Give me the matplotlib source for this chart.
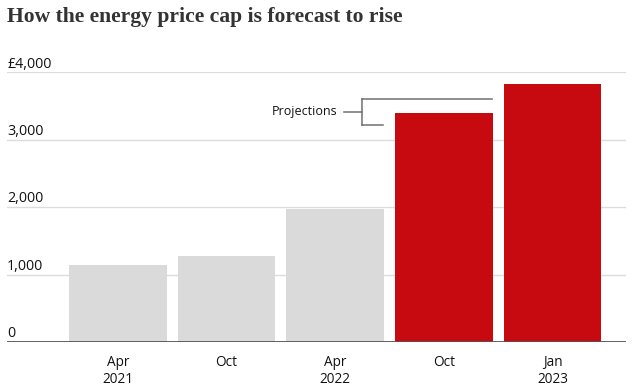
import numpy as np
import matplotlib
matplotlib.use("Agg")
import matplotlib.pyplot as plt

# price cap (GBP / year)
months = ["Apr", "Oct", "Apr", "Oct", "Jan"]
years = ["2021", "", "2022", "", "2023"]
cap = [1138, 1277, 1971, 3390, 3830]
projected = [False, False, False, True, True]
yticks = [0, 1000, 2000, 3000, 4000]
ylabels = ["0", "1,000", "2,000", "3,000", "£4,000"]

GREY, RED, INK = "#dadada", "#c70a10", "#121212"
SANS = ["Open Sans", "DejaVu Sans"]

fig = plt.figure(figsize=(6.32, 3.92), dpi=100)
ax = fig.add_axes([7 / 632, 50 / 392, 619 / 632, 1 - 72.3 / 392 - 50 / 392])

x = np.arange(len(cap))
cols = [RED if p else GREY for p in projected]
ax.bar(x, cap, width=0.9, color=cols, zorder=2)

ax.set_xlim(-1.022, 4.677)
ax.set_ylim(0, 4000)
for s in ax.spines.values():
    s.set_visible(False)
ax.set_xticks([]); ax.set_yticks([])

# gridlines + labels sitting on top of them
for v, lab in zip(yticks, ylabels):
    if v == 0:
        ax.axhline(0, color="#555555", lw=1.3, zorder=3)
    else:
        ax.axhline(v, color="#dcdcdc", lw=1.0, zorder=1)
    ax.annotate(lab, (0, v), xycoords=("axes fraction", "data"), xytext=(0, 0.5),
                textcoords="offset points", ha="left", va="bottom",
                fontsize=10.3, family=SANS, color=INK)

# category labels
for xi, m, yr in zip(x, months, years):
    ax.text(xi, -300, m, ha="center", va="center", fontsize=9.8, family=SANS, color=INK)
    if yr:
        ax.text(xi, -550, yr, ha="center", va="center", fontsize=9.8, family=SANS, color=INK)

# "Projections" bracket
bc = "#707070"
yt, yb, ym = 3610, 3225, 3412
xv = 2.244
ax.plot([xv, xv], [yb, yt], color=bc, lw=1.1, clip_on=False, zorder=4)
ax.plot([xv, x[3] + 0.444], [yt, yt], color=bc, lw=1.1, clip_on=False, zorder=4)
ax.plot([xv, x[2] + 0.443], [yb, yb], color=bc, lw=1.1, clip_on=False, zorder=4)
ax.plot([2.081, xv], [ym, ym], color=bc, lw=1.1, clip_on=False, zorder=4)
ax.text(2.017, ym, "Projections", ha="right", va="center", fontsize=9,
        family=SANS, color=INK)

fig.text(7 / 632, 1 - 17 / 392, "How the energy price cap is forecast to rise",
         ha="left", va="center", fontsize=15.6, fontweight="bold",
         family=["Liberation Serif", "DejaVu Serif"], color="#333333")

fig.savefig("out.png", dpi=100)
